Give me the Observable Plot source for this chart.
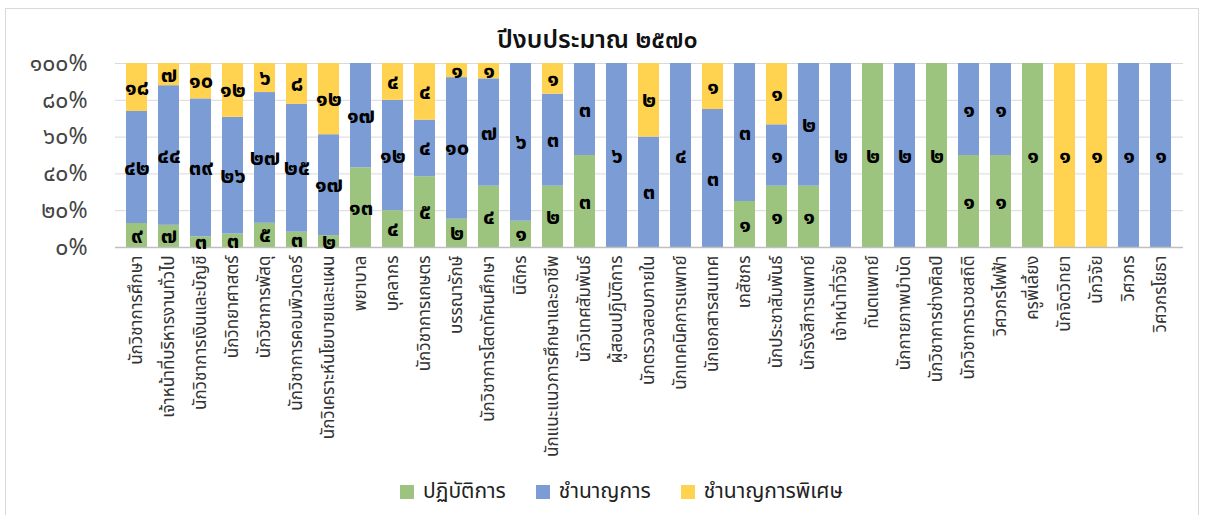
<!DOCTYPE html>
<html>
<head>
<meta charset="utf-8">
<script src="https://cdn.jsdelivr.net/npm/d3@7"></script>
<script src="https://cdn.jsdelivr.net/npm/@observablehq/plot@0.6"></script>
<style>
  html, body { margin: 0; padding: 0; background: #fff; }
  body { width: 1205px; height: 515px; overflow: hidden; font-family: "Noto Sans Thai", "Noto Sans", "DejaVu Sans", sans-serif; }
  #frame { position: absolute; left: 5px; top: 8px; width: 1194px; height: 520px; border: 1px solid #d9d9d9; box-sizing: border-box; }
  #title { position: absolute; left: 0; top: 22px; width: 1195px; text-align: center; font-size: 25px; font-weight: 600; color: #111; line-height: 36px; z-index: 2; }
  #chart { position: absolute; left: 0; top: 40px; }
  #chart svg { overflow: visible; }
  #legend { position: absolute; left: 0; top: 476px; width: 1205px; padding-left: 38px; box-sizing: border-box; display: flex; justify-content: center; gap: 30px; font-size: 21px; color: #222; }
  #legend span.item { display: flex; align-items: center; gap: 9px; }
  #legend span.sw { width: 14px; height: 14px; display: inline-block; }
</style>
</head>
<body>
<div id="frame"></div>
<div id="chart"></div>
<div id="title">ปีงบประมาณ ๒๕๗๐</div>
<div id="legend"></div>
<script>
const categories = [
  "นักวิชาการศึกษา", "เจ้าหน้าที่บริหารงานทั่วไป", "นักวิชาการเงินและบัญชี", "นักวิทยาศาสตร์",
  "นักวิชาการพัสดุ", "นักวิชาการคอมพิวเตอร์", "นักวิเคราะห์นโยบายและแผน", "พยาบาล",
  "บุคลากร", "นักวิชาการเกษตร", "บรรณารักษ์", "นักวิชาการโสตทัศนศึกษา", "นิติกร",
  "นักแนะแนวการศึกษาและอาชีพ", "นักวิเทศสัมพันธ์", "ผู้สอนปฏิบัติการ", "นักตรวจสอบภายใน",
  "นักเทคนิคการแพทย์", "นักเอกสารสนเทศ", "เภสัชกร", "นักประชาสัมพันธ์", "นักรังสีการแพทย์",
  "เจ้าหน้าที่วิจัย", "ทันตแพทย์", "นักกายภาพบำบัด", "นักวิชาการช่างศิลป์", "นักวิชาการเวชสถิติ",
  "วิศวกรไฟฟ้า", "ครูพี่เลี้ยง", "นักจิตวิทยา", "นักวิจัย", "วิศวกร", "วิศวกรโยธา"
];
const series = ["ปฏิบัติการ", "ชำนาญการ", "ชำนาญการพิเศษ"];
const practitioner = [9, 7, 3, 3, 5, 3, 2, 13, 4, 5, 2, 4, 1, 2, 3, 0, 0, 0, 0, 1, 1, 1, 0, 2, 0, 2, 1, 1, 1, 0, 0, 0, 0];
const professional = [42, 44, 39, 26, 27, 25, 17, 17, 12, 4, 10, 7, 6, 3, 3, 6, 3, 4, 3, 3, 1, 2, 2, 0, 2, 0, 1, 1, 0, 0, 0, 1, 1];
const senior       = [18, 7, 10, 12, 6, 8, 12, 0, 4, 4, 1, 1, 0, 1, 0, 0, 2, 0, 1, 0, 1, 0, 0, 0, 0, 0, 0, 0, 0, 1, 1, 0, 0];
const yTicks = [0, 0.2, 0.4, 0.6, 0.8, 1];
const colors = ["#9dc47f", "#7b9cd5", "#ffd24f"];

const thaiDigits = "๐๑๒๓๔๕๖๗๘๙";
const toThai = s => String(s).replace(/[0-9]/g, d => thaiDigits[+d]);

const valueSets = [practitioner, professional, senior];
const rows = [];
series.forEach((s, si) => {
  categories.forEach((c, ci) => {
    const v = valueSets[si][ci];
    if (v > 0) rows.push({category: c, series: s, value: v});
  });
});

const font = '"Noto Sans Thai", "Noto Sans", "DejaVu Sans", sans-serif';

const chart = Plot.plot({
  width: 1205,
  height: 435,
  marginLeft: 115,
  marginRight: 22,
  marginTop: 23,
  marginBottom: 228,
  style: {fontFamily: font, background: "transparent", color: "#595959", overflow: "visible"},
  x: {domain: categories, paddingInner: 0.34, paddingOuter: 0.17, label: null, tickSize: 0, tickPadding: 8, tickRotate: -90},
  y: {domain: [0, 1], ticks: yTicks, tickFormat: d => toThai(Math.round(d * 100)) + "%", label: null, tickSize: 0, tickPadding: 28, grid: false},
  color: {domain: series, range: colors},
  marks: [
    Plot.gridY(yTicks, {stroke: "#d9d9d9", strokeOpacity: 1, strokeWidth: 1}),
    Plot.barY(rows, Plot.stackY({x: "category", y: "value", fill: "series", offset: "normalize", order: series})),
    Plot.ruleY([0], {stroke: "#bfbfbf", strokeWidth: 1.5}),
    Plot.text(rows, Plot.stackY({x: "category", y: "value", z: "series", offset: "normalize", order: series,
      text: d => toThai(d.value), fill: "#000", fontWeight: "bold", fontSize: 22}))
  ]
});
chart.querySelectorAll('[aria-label="x-axis tick label"]').forEach(el => { el.setAttribute("font-size", 17); el.style.fill = "#333"; });
chart.querySelectorAll('[aria-label="y-axis tick label"]').forEach(el => { el.setAttribute("font-size", 23); el.style.fill = "#444"; });
document.getElementById("chart").appendChild(chart);

const legend = document.getElementById("legend");
series.forEach((s, i) => {
  const item = document.createElement("span");
  item.className = "item";
  item.innerHTML = `<span class="sw" style="background:${colors[i]}"></span><span>${s}</span>`;
  legend.appendChild(item);
});
</script>
</body>
</html>
